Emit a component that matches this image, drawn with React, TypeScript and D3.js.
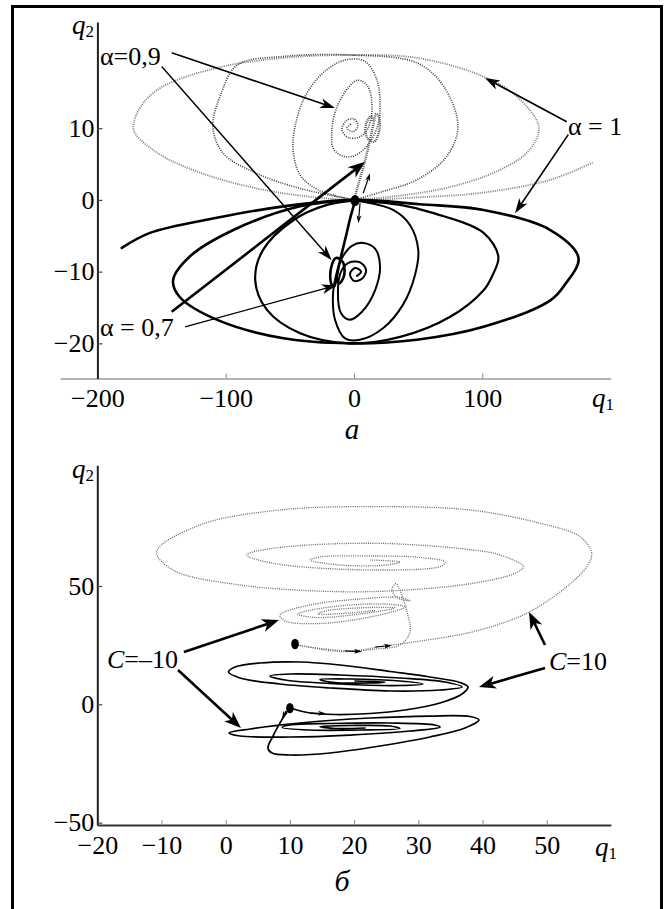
import React, { useEffect, useRef } from 'react';
import * as d3 from 'd3';

type Pt = [number, number];

// ---- panel а : phase trajectories (q1, q2) ----
const alpha1Solid: Pt[] = [
  [-181, -6.7], [-159, -4.6], [-107, -2.5], [-55, -0.9], [1, 0], [51, -0.6], [101, -1.4],
  [153, -4.2], [175, -8.1], [164, -11.9], [153, -14], [101, -17.7], [49, -19.5], [-3, -20],
  [-55, -19.3], [-107, -16.7], [-136, -13.5], [-141, -11.2], [-128, -7.9], [-94, -4.2],
  [-42, -0.9], [1, 0],
];
const alpha1Dotted: Pt[] = [
  [186, 5.2], [153, 2.8], [100, 1], [49, 0.35], [0, 0], [-42, 0.6], [-81, 1.8], [-120, 3.8],
  [-151, 6.3], [-170, 9.1], [-172, 10.2], [-167, 12.8], [-151, 15.6], [-107, 18.4], [-55, 19.8],
  [-3, 20.2], [49, 19.8], [101, 17.2], [127, 14.4], [144, 10.2], [137, 7], [114, 4.2],
  [75, 1.8], [36, 0.6], [0, 0],
];
const midSolid: Pt[] = [
  [1, -0.1], [36, -0.7], [62, -1.85], [101, -4.6], [112.5, -7.9], [108, -10.5], [101, -12.6],
  [75, -16.3], [36, -19.1], [-3, -20], [-42, -18.6], [-68, -15.3], [-77, -11.2], [-71, -7],
  [-47, -2.8], [-21, -0.7], [1, -0.1],
];
const midDotted: Pt[] = [
  [0, 0], [23, 1.2], [49, 2.8], [72, 6], [81, 10.2], [70, 15.8], [49, 19.1], [-3, 20.2],
  [-55, 20], [-91, 18.8], [-104, 14.6], [-110, 10.2], [-102, 6.5], [-76, 3.7], [-42, 1.6], [0, 0],
];
const alpha09Solid: Pt[] = [
  [1, -0.1], [30.4, -1.4], [43.6, -3.5], [50.1, -7], [47.5, -10.5], [38.2, -14.6], [22.6, -17.9],
  [4.7, -19.5], [-7, -19.3], [-14.8, -16.7], [-16.4, -13.3], [-14, -10.5], [-9.4, -8.1],
  [-1.6, -6.4], [7.2, -6], [16.4, -6.8], [20.3, -9.3], [16.4, -12.6], [6.2, -15.6], [-3.1, -16.7],
  [-10.1, -15.8], [-12.5, -12.6], [-10.1, -10], [-4.7, -8.8], [4.7, -8.7], [9.4, -9.8],
  [6.2, -11], [0, -11.3], [-3.1, -10.3], [0.8, -9.5], [5.5, -10], [2.3, -10.6],
];
const alpha09Dotted: Pt[] = [
  [0, 0], [-28.1, 1.4], [-42.1, 3.5], [-47.5, 7], [-46, 10.2], [-38.2, 14.4], [-24.2, 17.7],
  [-7, 19.5], [8.6, 19.3], [17.9, 16.7], [20.3, 13.3], [18.7, 10.5], [12.5, 8.1], [3.1, 6.4],
  [-6.2, 6], [-15.6, 7], [-17.4, 9.3], [-14, 12.6], [-4.7, 15.6], [3.1, 16.7], [10.9, 15.8],
  [14, 12.6], [10.9, 10], [4.7, 8.8], [-4.7, 8.7], [-9.4, 9.8], [-6.2, 11], [0, 11.3],
  [3.1, 10.3], [-0.8, 9.5], [-5.5, 10], [-2.3, 10.6],
];
const alpha07Solid: Pt[] = [
  [1, -0.1], [-2.3, -2.1], [-7, -5.6], [-11.7, -9.1], [-14, -11.2], [-15.6, -12.1], [-17.9, -11.6],
  [-17.9, -9.5], [-14, -8.1], [-8.6, -8.7], [-7.8, -10.6], [-11.7, -11.7], [-13.3, -10.9],
];
const alpha07Dotted: Pt[] = [
  [0, 0], [3.1, 2], [7.8, 4.9], [12.5, 8.4], [15.6, 10.9], [17.1, 12], [19.5, 11.6], [19.5, 9.5],
  [15.6, 8.1], [10.1, 8.7], [9.4, 10.6], [13.3, 11.7], [14.8, 10.9],
];
const startA: Pt = [0.8, -0.1];
const xTicksA = [-200, -100, 0, 100];
const yTicksA = [-20, -10, 0, 10];

// ---- panel б ----
const c10Solid: Pt[] = [
  [10.02, -1.56], [13.13, -3.68], [17.02, -4.31], [22.48, -3.89], [27.93, -2.41], [33.38, 0.55],
  [36.81, 4.35], [37.74, 7.31], [36.5, 9.21], [31.82, 11.54], [25.6, 13.86], [17.8, 16.61],
  [11.57, 17.88], [5.34, 17.46], [1.45, 15.77], [0.44, 13.65], [2.23, 11.12], [8.46, 8.58],
  [16.25, 6.89], [25.6, 5.62], [33.38, 6.05], [36.81, 7.31], [34.16, 9.43], [27.15, 11.12],
  [17.8, 12.38], [10.02, 12.81], [6.9, 11.96], [9.24, 10.27], [17.8, 8.58], [27.15, 7.95],
  [30.73, 8.58], [27.15, 9.85], [19.36, 10.69], [14.69, 10.48], [16.25, 9.43], [22.48, 9.0],
  [24.82, 9.43], [20.14, 9.85],
];
const cm10Solid: Pt[] = [
  [10.02, -1.56], [9.39, -3.68], [8.46, -7.9], [7.37, -13.4], [6.59, -18.47], [7.21, -20.58],
  [10.02, -21.43], [16.25, -20.58], [24.03, -17.62], [31.82, -13.82], [37.27, -10.01],
  [39.45, -6.63], [38.05, -5.16], [31.82, -4.95], [22.48, -5.79], [11.57, -7.9], [3.78, -10.44],
  [0.51, -12.13], [2.23, -13.4], [10.02, -13.82], [19.36, -12.98], [28.71, -11.29], [33.38, -9.6],
  [32.6, -8.75], [25.6, -7.9], [16.25, -8.11], [10.02, -8.75], [8.77, -9.81], [13.13, -10.86],
  [20.92, -10.86], [27.15, -10.23], [25.6, -9.17], [19.36, -8.96], [14.69, -9.38], [17.02, -10.23],
  [21.7, -10.02],
];
const c10Dotted: Pt[] = [
  [10.53, 25.49], [12.62, 24.34], [19.83, 22.65], [24.03, 24.34], [28.19, 25.91], [38.52, 30.68],
  [46.88, 38.46], [53.12, 49.7], [56.23, 58.16], [57.01, 63.82], [55.19, 70.84], [48.96, 76.5],
  [38.05, 82.12], [23.41, 83.52], [8.46, 82.12], [-4.0, 75.78], [-10.75, 64.5], [-8.21, 56.76],
  [2.23, 50.42], [17.8, 47.59], [28.19, 48.31], [38.52, 51.14], [45.06, 55.37], [46.36, 58.16],
  [42.73, 63.1], [38.52, 65.22], [22.94, 68.05], [7.37, 65.93], [3.27, 63.1], [7.37, 59.59],
  [22.94, 56.76], [33.64, 58.45], [34.16, 60.14], [30.26, 62.05], [22.94, 62.68], [14.69, 62.26],
  [13.13, 60.99], [17.8, 58.88], [25.08, 58.88], [27.15, 60.14], [22.48, 60.99],
];
const cm10Dotted: Pt[] = [
  [10.53, 25.49], [12.62, 24.34], [17.8, 22.32], [23.25, 23.37], [27.15, 25.06], [28.71, 30.56],
  [28.24, 39.01], [27.15, 48.31], [26.53, 51.06], [25.9, 48.73], [26.53, 45.35], [28.71, 43.66],
  [27.15, 45.14], [20.92, 44.5], [13.13, 41.97], [8.46, 37.74], [9.24, 35.2], [14.69, 34.15],
  [22.48, 36.9], [27.93, 41.12], [24.81, 42.39], [16.25, 41.12], [11.26, 38.16], [13.91, 36.69],
  [20.92, 38.16], [26.37, 40.7], [22.48, 40.91], [15.47, 39.43], [14.38, 38.16], [19.36, 38.59],
  [23.25, 39.64],
];
const startsB: Pt[] = [[10.8, 25.5], [10.0, -1.6]];
const xTicksB = [-20, -10, 0, 10, 20, 30, 40, 50];
const yTicksB = [-50, 0, 50];

// annotation arrows (data coords of the panel they sit in)
const notesA = [
  { label: 'α=0,9', at: [-198, 18.8], arrows: [
    { from: [-142.1, 20.5], to: [-14.8, 12.8], w: 1.6 },
    { from: [-149.9, 18.6], to: [-17.4, -8.4], w: 1.4 }] },
  { label: 'α = 1', at: [166.8, 9.1], arrows: [
    { from: [165.8, 10.9], to: [102.1, 17.0], w: 1.7 },
    { from: [167, 9.1], to: [125.5, -1.85], w: 1.6 }] },
  { label: 'α = 0,7', at: [-198, -19], arrows: [
    { from: [-142.1, -15.6], to: [8.6, 5.3], w: 2.6 },
    { from: [-131.7, -17.7], to: [-13.5, -11.9], w: 1.3 }] },
];
const smallArrowsA = [
  { from: [7.2, 0.93], to: [12.5, 3.72] },
  { from: [4.7, -0.46], to: [3.4, -3.25] },
];
const notesB = [
  { label: '=–10', at: [-18.49, 15.34], arrows: [
    { from: [-6.5, 22.1], to: [8.3, 35.6], w: 2.6 },
    { from: [-7.43, 14.5], to: [2.38, -10.0], w: 2.6 }] },
  { label: '=10', at: [50.36, 14.5], arrows: [
    { from: [49.74, 25.06], to: [47.24, 39.01], w: 2.6 },
    { from: [49.74, 15.34], to: [39.45, 7.31], w: 2.6 }] },
];
const smallArrowsB = [
  { from: [18.58, 22.53], to: [21.23, 22.32] },
  { from: [23.26, 24.22], to: [25.9, 24.85] },
  { from: [13.13, -3.68], to: [15.62, -3.89] },
  { from: [9.39, -2.83], to: [8.77, -6.21] },
];

const FONT = "'Liberation Serif', 'Times New Roman', serif";

const App = () => {
  const svgRef = useRef<SVGSVGElement>(null);

  useEffect(() => {
    const svg = d3.select(svgRef.current);
    svg.selectAll('*').remove();

    // outer frame (no bottom edge visible)
    svg.append('path')
      .attr('d', 'M12.5,915V6.5H661.5V915')
      .attr('fill', 'none').attr('stroke', '#000').attr('stroke-width', 3);

    const xA = d3.scaleLinear().domain([-229, 200]).range([60.2, 610.6]);
    const yA = d3.scaleLinear().domain([-24.9, 24.8]).range([378.5, 22]);
    const xB = d3.scaleLinear().domain([-20, 60]).range([97.3, 610.9]);
    const yB = d3.scaleLinear().domain([-51, 101]).range([825, 465.3]);

    const head = (g, tip, from, len, wid, w) => {
      const dx = tip[0] - from[0], dy = tip[1] - from[1];
      const L = Math.hypot(dx, dy);
      const ux = dx / L, uy = dy / L, nx = -uy, ny = ux;
      const bx = tip[0] - ux * len, by = tip[1] - uy * len;
      const mx = tip[0] - ux * len * 0.72, my = tip[1] - uy * len * 0.72;
      g.append('line')
        .attr('x1', from[0]).attr('y1', from[1]).attr('x2', mx).attr('y2', my)
        .attr('stroke', '#000').attr('stroke-width', w);
      g.append('path')
        .attr('d', `M${tip[0]},${tip[1]}L${bx + nx * wid / 2},${by + ny * wid / 2}L${mx},${my}L${bx - nx * wid / 2},${by - ny * wid / 2}Z`)
        .attr('fill', '#000');
    };

    const drawPanel = (x, y, xTicks, yTicks, xAxisStyle) => {
      const g = svg.append('g');
      const yAxisX = x(xTicks[0]);
      const xa = g.append('g')
        .attr('transform', `translate(0,${y.range()[0]})`)
        .call(d3.axisBottom(x).tickValues(xTicks).tickSize(-5).tickSizeOuter(0).tickPadding(10.5));
      xa.select('.domain').attr('stroke', xAxisStyle.color).attr('stroke-width', xAxisStyle.w);
      xa.selectAll('.tick line').attr('stroke', '#888').attr('stroke-width', 1);
      xa.selectAll('text').attr('font-family', FONT).attr('font-size', 26).attr('fill', '#000');

      const ya = g.append('g')
        .attr('transform', `translate(${yAxisX},0)`)
        .call(d3.axisLeft(y).tickValues(yTicks).tickSize(-5).tickSizeOuter(0).tickPadding(3));
      ya.select('.domain').attr('stroke', '#222').attr('stroke-width', 2);
      ya.selectAll('.tick line').attr('stroke', '#444').attr('stroke-width', 1.2);
      ya.selectAll('text').attr('font-family', FONT).attr('font-size', 26).attr('fill', '#000');
      return g;
    };

    const trace = (g, x, y, pts, style) => {
      const line = d3.line<Pt>().x(d => x(d[0])).y(d => y(d[1])).curve(d3.curveCatmullRom.alpha(0.5));
      g.append('path').attr('d', line(pts)).attr('fill', 'none')
        .attr('stroke', style.color).attr('stroke-width', style.w)
        .attr('stroke-dasharray', style.dash || null)
        .attr('stroke-linejoin', 'round').attr('stroke-linecap', style.dash ? 'butt' : 'round');
    };

    const axisLabel = (g, px, py, sub) => {
      const t = g.append('text').attr('x', px).attr('y', py)
        .attr('font-family', FONT).attr('font-size', 27).attr('font-style', 'italic');
      t.append('tspan').text('q');
      t.append('tspan').attr('font-style', 'normal').attr('font-size', 17).attr('dy', 3).text(sub);
    };

    // ---------- panel а ----------
    const gA = drawPanel(xA, yA, xTicksA, yTicksA, { color: '#666', w: 1.2 });
    const dotLight = { color: '#7a7a7a', w: 1.8, dash: '1 1.2' };
    const dotDark = { color: '#3c3c3c', w: 1.6, dash: '1 1.3' };
    trace(gA, xA, yA, alpha1Dotted, dotLight);
    trace(gA, xA, yA, midDotted, dotDark);
    trace(gA, xA, yA, alpha09Dotted, dotDark);
    trace(gA, xA, yA, alpha07Dotted, { color: '#555', w: 2.4, dash: '1 1' });
    trace(gA, xA, yA, alpha1Solid, { color: '#000', w: 2.6 });
    trace(gA, xA, yA, midSolid, { color: '#000', w: 2.2 });
    trace(gA, xA, yA, alpha09Solid, { color: '#000', w: 2.0 });
    trace(gA, xA, yA, alpha07Solid, { color: '#000', w: 2.6 });
    gA.append('ellipse').attr('cx', xA(startA[0])).attr('cy', yA(startA[1])).attr('rx', 4.5).attr('ry', 5.5).attr('fill', '#000');

    notesA.forEach(n => {
      gA.append('text').attr('x', xA(n.at[0])).attr('y', yA(n.at[1]))
        .attr('font-family', FONT).attr('font-size', 26).text(n.label);
      n.arrows.forEach(a => head(gA, [xA(a.to[0]), yA(a.to[1])], [xA(a.from[0]), yA(a.from[1])], a.w > 2 ? 17 : 15, a.w > 2 ? 13 : 10, a.w));
    });
    smallArrowsA.forEach(a => head(gA, [xA(a.to[0]), yA(a.to[1])], [xA(a.from[0]), yA(a.from[1])], 8, 5, 1.2));

    axisLabel(gA, 72, 34, '2');
    axisLabel(gA, 592, 407, '1');
    gA.append('text').attr('x', 352).attr('y', 439).attr('text-anchor', 'middle')
      .attr('font-family', FONT).attr('font-size', 29).attr('font-style', 'italic').text('а');

    // ---------- panel б ----------
    const gB = drawPanel(xB, yB, xTicksB, yTicksB, { color: '#333', w: 2 });
    const dotB = { color: '#666', w: 1.3, dash: '1 1.2' };
    trace(gB, xB, yB, c10Dotted, dotB);
    trace(gB, xB, yB, cm10Dotted, dotB);
    trace(gB, xB, yB, c10Solid, { color: '#000', w: 1.7 });
    trace(gB, xB, yB, cm10Solid, { color: '#000', w: 1.7 });
    startsB.forEach(s => gB.append('ellipse').attr('cx', xB(s[0])).attr('cy', yB(s[1])).attr('rx', 3.8).attr('ry', 5.2).attr('fill', '#000'));

    notesB.forEach(n => {
      const t = gB.append('text').attr('x', xB(n.at[0])).attr('y', yB(n.at[1]))
        .attr('font-family', FONT).attr('font-size', 26);
      t.append('tspan').attr('font-style', 'italic').text('C');
      t.append('tspan').text(n.label);
      n.arrows.forEach(a => head(gB, [xB(a.to[0]), yB(a.to[1])], [xB(a.from[0]), yB(a.from[1])], 17, 13, a.w));
    });
    smallArrowsB.forEach(a => head(gB, [xB(a.to[0]), yB(a.to[1])], [xB(a.from[0]), yB(a.from[1])], 8, 5, 1.2));

    axisLabel(gB, 72, 478, '2');
    axisLabel(gB, 595, 856, '1');
    gB.append('text').attr('x', 342).attr('y', 891).attr('text-anchor', 'middle')
      .attr('font-family', FONT).attr('font-size', 30).attr('font-style', 'italic').text('б');
  }, []);

  return (
    <svg ref={svgRef} width={671} height={909}
      style={{ position: 'absolute', left: 0, top: 0, background: '#fff' }} />
  );
};

export default App;
